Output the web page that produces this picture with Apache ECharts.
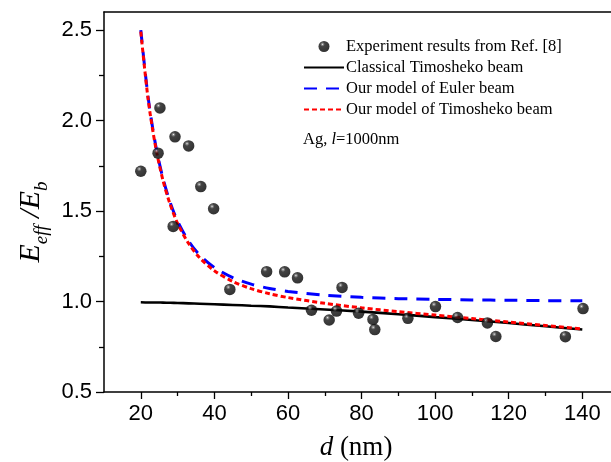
<!DOCTYPE html>
<html>
<head>
<meta charset="utf-8">
<script src="https://cdn.jsdelivr.net/npm/echarts@6/dist/echarts.min.js"></script>
<style>
html,body{margin:0;padding:0;background:#fff;}
#chart{width:611px;height:462px;}
</style>
</head>
<body>
<div id="chart"></div>
<script>
// Experimental points (d in nm, Eeff/Eb)
const expD = [20, 25.2, 24.7, 29.3, 33.0, 28.8, 36.3, 39.8, 44.2, 54.2, 59.1, 62.6, 74.7, 66.4, 71.2, 73.2, 79.2, 83.1, 83.6, 92.6, 100.1, 106.1, 114.2, 116.5, 135.4, 140.2];
const expV = [1.72, 2.07, 1.82, 1.91, 1.86, 1.415, 1.635, 1.513, 1.067, 1.165, 1.164, 1.131, 1.078, 0.952, 0.898, 0.947, 0.935, 0.901, 0.845, 0.907, 0.972, 0.912, 0.882, 0.807, 0.806, 0.961];

// Model curves
const curveD = [20, 22, 24, 26, 28, 30, 33, 36, 40, 45, 50, 55, 60, 70, 80, 90, 100, 110, 120, 130, 140];
const classicalV = [0.996, 0.995, 0.995, 0.994, 0.993, 0.992, 0.990, 0.988, 0.985, 0.981, 0.977, 0.973, 0.967, 0.956, 0.944, 0.930, 0.914, 0.898, 0.881, 0.863, 0.845];
const eulerV = [2.500, 2.127, 1.868, 1.683, 1.547, 1.444, 1.334, 1.257, 1.188, 1.132, 1.096, 1.072, 1.056, 1.035, 1.023, 1.016, 1.012, 1.009, 1.007, 1.005, 1.004];
const timoV = [2.491, 2.117, 1.858, 1.672, 1.536, 1.432, 1.321, 1.242, 1.170, 1.111, 1.071, 1.043, 1.022, 0.990, 0.965, 0.944, 0.925, 0.906, 0.887, 0.868, 0.848];

// Axis ticks
const xMajor = [20, 40, 60, 80, 100, 120, 140];
const xMinor = [30, 50, 70, 90, 110, 130];
const yMajor = [0.5, 1.0, 1.5, 2.0, 2.5];
const yMinor = [0.75, 1.25, 1.75, 2.25];

const names = ['Experiment results from Ref. [8]', 'Classical Timosheko beam', 'Our model of Euler beam', 'Our model of Timosheko beam'];

const zip = (a, b) => a.map((v, i) => [v, b[i]]);
const serif = 'Liberation Serif';
const sans = 'Liberation Sans';

const sphere = {
  type: 'radial', x: 0.36, y: 0.3, r: 0.7,
  colorStops: [
    {offset: 0, color: '#f4f4f4'},
    {offset: 0.1, color: '#7a7a7a'},
    {offset: 0.3, color: '#141414'},
    {offset: 1, color: '#000000'}
  ]
};

const chart = echarts.init(document.getElementById('chart'), null, {renderer: 'canvas'});

const xMin = 10, xMax = 147.8;
const gridRect = {left: 104, top: 12, width: 507, height: 380};

const lineAxisTick = (len, vals) => ({show: true, length: len, lineStyle: {color: '#000', width: 1.3}, customValues: vals});

chart.setOption({
  animation: false,
  backgroundColor: '#fff',
  grid: Object.assign({show: false, containLabel: false}, gridRect),
  legend: {
    data: [
      {name: names[0]},
      {name: names[1], itemStyle: {opacity: 0}},
      {name: names[2], itemStyle: {opacity: 0}},
      {name: names[3], itemStyle: {opacity: 0}}
    ],
    orient: 'vertical',
    left: 303, top: 36,
    padding: 0,
    itemGap: 0,
    itemWidth: 40,
    itemHeight: 11,
    textStyle: {fontFamily: serif, fontSize: 16.5, color: '#000', lineHeight: 21, padding: [0, 0, 0, -3]},
    selectedMode: false
  },
  xAxis: [{
    type: 'value', min: xMin, max: xMax,
    axisLine: {show: true, lineStyle: {color: '#000', width: 1.5}},
    axisTick: lineAxisTick(7, xMajor),
    axisLabel: {customValues: xMajor, fontFamily: sans, fontSize: 22, color: '#000', margin: 11},
    splitLine: {show: false}
  }, {
    type: 'value', min: xMin, max: xMax, position: 'bottom',
    axisLine: {show: false},
    axisTick: lineAxisTick(4, xMinor),
    axisLabel: {show: false},
    splitLine: {show: false}
  }, {
    type: 'value', min: xMin, max: xMax, position: 'top',
    axisLine: {show: true, lineStyle: {color: '#000', width: 1.5}},
    axisTick: {show: false},
    axisLabel: {show: false},
    splitLine: {show: false}
  }],
  yAxis: [{
    type: 'value', min: 0.5, max: 2.6,
    axisLine: {show: true, lineStyle: {color: '#000', width: 1.5}},
    axisTick: lineAxisTick(8, yMajor),
    axisLabel: {customValues: yMajor, fontFamily: sans, fontSize: 22, color: '#000', margin: 12,
      formatter: v => v.toFixed(1)},
    splitLine: {show: false}
  }, {
    type: 'value', min: 0.5, max: 2.6, position: 'left',
    axisLine: {show: false},
    axisTick: lineAxisTick(5, yMinor),
    axisLabel: {show: false},
    splitLine: {show: false}
  }],
  series: [{
    name: names[1], type: 'line', data: zip(curveD, classicalV), symbol: 'none', smooth: 0.3,
    lineStyle: {color: '#000', width: 2.6}, itemStyle: {color: '#000'}, z: 2
  }, {
    name: names[2], type: 'line', data: zip(curveD, eulerV), symbol: 'none', smooth: 0.3,
    lineStyle: {color: '#0000ff', width: 3, type: [13, 9]}, itemStyle: {color: '#0000ff'}, z: 3
  }, {
    name: names[3], type: 'line', data: zip(curveD, timoV), symbol: 'none', smooth: 0.3,
    lineStyle: {color: '#ff0000', width: 3, type: [5, 3]}, itemStyle: {color: '#ff0000'}, z: 4
  }, {
    name: names[0], type: 'scatter', data: zip(expD, expV), symbol: 'circle', symbolSize: 11.5,
    itemStyle: {color: sphere}, z: 6
  }],
  graphic: [{
    type: 'text', left: 303, top: 131,
    style: {
      text: '{n|Ag, }{i|l}{n|=1000nm}',
      rich: {
        n: {fontFamily: serif, fontSize: 16.5, fill: '#000'},
        i: {fontFamily: serif, fontSize: 16.5, fontStyle: 'italic', fill: '#000'}
      }
    }
  }, {
    type: 'text', x: 356, y: 448,
    style: {
      text: '{i|d}{n| (nm)}', align: 'center', verticalAlign: 'middle',
      rich: {
        i: {fontFamily: serif, fontSize: 27, fontStyle: 'italic', fill: '#000'},
        n: {fontFamily: serif, fontSize: 27, fill: '#000'}
      }
    }
  }, {
    type: 'text', x: 31, y: 222, rotation: Math.PI / 2,
    style: {
      text: '{e|E}{s|eff}{e| /E}{s|b}', align: 'center', verticalAlign: 'middle',
      rich: {
        e: {fontFamily: serif, fontSize: 30, fontStyle: 'italic', fill: '#000', lineHeight: 40, verticalAlign: 'middle'},
        s: {fontFamily: serif, fontSize: 19, fontStyle: 'italic', fill: '#000', lineHeight: 19, verticalAlign: 'bottom'}
      }
    }
  }]
});
</script>
</body>
</html>
